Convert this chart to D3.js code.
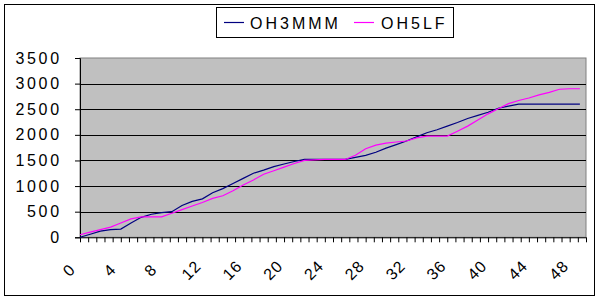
<!DOCTYPE html>
<html><head><meta charset="utf-8">
<script src="https://cdn.jsdelivr.net/npm/d3@7"></script>
<style>html,body{margin:0;padding:0;background:#fff;}svg{display:block;}</style>
</head><body>
<svg id="chart" width="600" height="300"></svg>
<script>
const seriesNames = ["OH3MMM", "OH5LF"];
const seriesColors = ["#000080", "#FF00FF"];
const xValues = d3.range(0, 50);
const oh3mmm = [0,60,120,150,160,280,390,450,480,500,620,700,750,870,950,1050,1150,1250,1310,1380,
  1430,1480,1520,1520,1520,1520,1520,1560,1600,1660,1740,1810,1880,1960,2040,2100,2170,2240,2320,2380,
  2440,2520,2560,2600,2600,2600,2600,2600,2600,2600];
const oh5lf = [50,100,150,200,280,360,400,400,400,470,540,610,680,760,810,910,1020,1120,1230,1300,
  1370,1440,1500,1510,1520,1520,1520,1600,1730,1800,1840,1860,1880,1940,1975,1975,1975,2070,2170,2290,
  2410,2510,2610,2670,2720,2780,2830,2890,2900,2900];
const yTicks = [0,500,1000,1500,2000,2500,3000,3500];
const xLabels = [0,4,8,12,16,20,24,28,32,36,40,44,48];

const svg = d3.select("#chart");
const font = "'Liberation Sans', Arial, sans-serif";
const L = 80, R = 586, T = 58, B = 237.3;
const x = d3.scaleLinear().domain([0, 49.6]).range([L, R]);
const y = d3.scaleLinear().domain([0, 3500]).range([B, T]);

svg.append("rect").attr("x", 4.5).attr("y", 4.5).attr("width", 590).attr("height", 291)
  .attr("fill", "#fff").attr("stroke", "#000").attr("stroke-width", 1);

svg.append("rect").attr("x", L).attr("y", T).attr("width", R - L).attr("height", B - T)
  .attr("fill", "#C0C0C0").attr("stroke", "#808080").attr("stroke-width", 1);

svg.append("g").selectAll("line").data(yTicks.filter(v => v > 0 && v < 3500)).join("line")
  .attr("x1", L).attr("x2", R).attr("y1", d => Math.round(y(d)) + 0.5).attr("y2", d => Math.round(y(d)) + 0.5)
  .attr("stroke", "#000").attr("stroke-width", 1);

const yAxis = d3.axisLeft(y).tickValues(yTicks).tickSize(5).tickPadding(18).tickFormat(d3.format("d"));
const gy = svg.append("g").attr("transform", `translate(${L},0)`).call(yAxis);
gy.select(".domain").attr("stroke", "#000");
gy.selectAll(".tick line").attr("stroke", "#000");
gy.selectAll(".tick text").attr("font-family", font).attr("font-size", 16)
  .attr("letter-spacing", "2.7px").attr("fill", "#000").attr("dx", "0.3em");

const minorTicks = d3.range(0, 62 + 1).map(i => +(i * 0.8).toFixed(2));
const xAxis = d3.axisBottom(x).tickValues(minorTicks).tickSize(5).tickFormat("");
const gx = svg.append("g").attr("transform", `translate(0,${B})`).call(xAxis);
gx.select(".domain").attr("stroke", "#000").attr("d", `M${L},0.5H${R}`);
gx.selectAll(".tick line").attr("stroke", "#000");

// rotated category labels
const xl = svg.append("g").attr("class", "xlabels");
xLabels.forEach(v => {
  const g = xl.append("g").attr("transform", "translate(" + (x(v) - 11).toFixed(1) + " 270) rotate(-45)");
  g.append("text")
    .attr("x", 0).attr("y", 0)
    .style("text-anchor", "middle").attr("dy", "0.35em")
    .style("font-family", font).style("font-size", "16px").style("letter-spacing", "1px")
    .attr("fill", "#000").text(v);
});

const series = [oh3mmm, oh5lf];
const line = d3.line().x((d, i) => x(xValues[i])).y(d => y(d));
svg.append("g").selectAll("path").data(series).join("path")
  .attr("d", d => line(d)).attr("fill", "none")
  .attr("stroke", (d, i) => seriesColors[i]).attr("stroke-width", 1.2);

const lg = svg.append("g");
lg.append("rect").attr("x", 216.5).attr("y", 7.5).attr("width", 237).attr("height", 30)
  .attr("fill", "#fff").attr("stroke", "#000").attr("stroke-width", 1);
const legItems = [{sx: 224, tx: 250}, {sx: 354, tx: 381}];
legItems.forEach((it, i) => {
  lg.append("line").attr("x1", it.sx).attr("x2", it.sx + 20).attr("y1", 22.5).attr("y2", 22.5)
    .attr("stroke", seriesColors[i]).attr("stroke-width", 1.2);
  lg.append("text").attr("x", it.tx).attr("y", 23).attr("dy", "0.35em")
    .attr("font-family", font).attr("font-size", 16).attr("letter-spacing", "3px")
    .attr("fill", "#000").text(seriesNames[i]);
});
</script>
</body></html>
